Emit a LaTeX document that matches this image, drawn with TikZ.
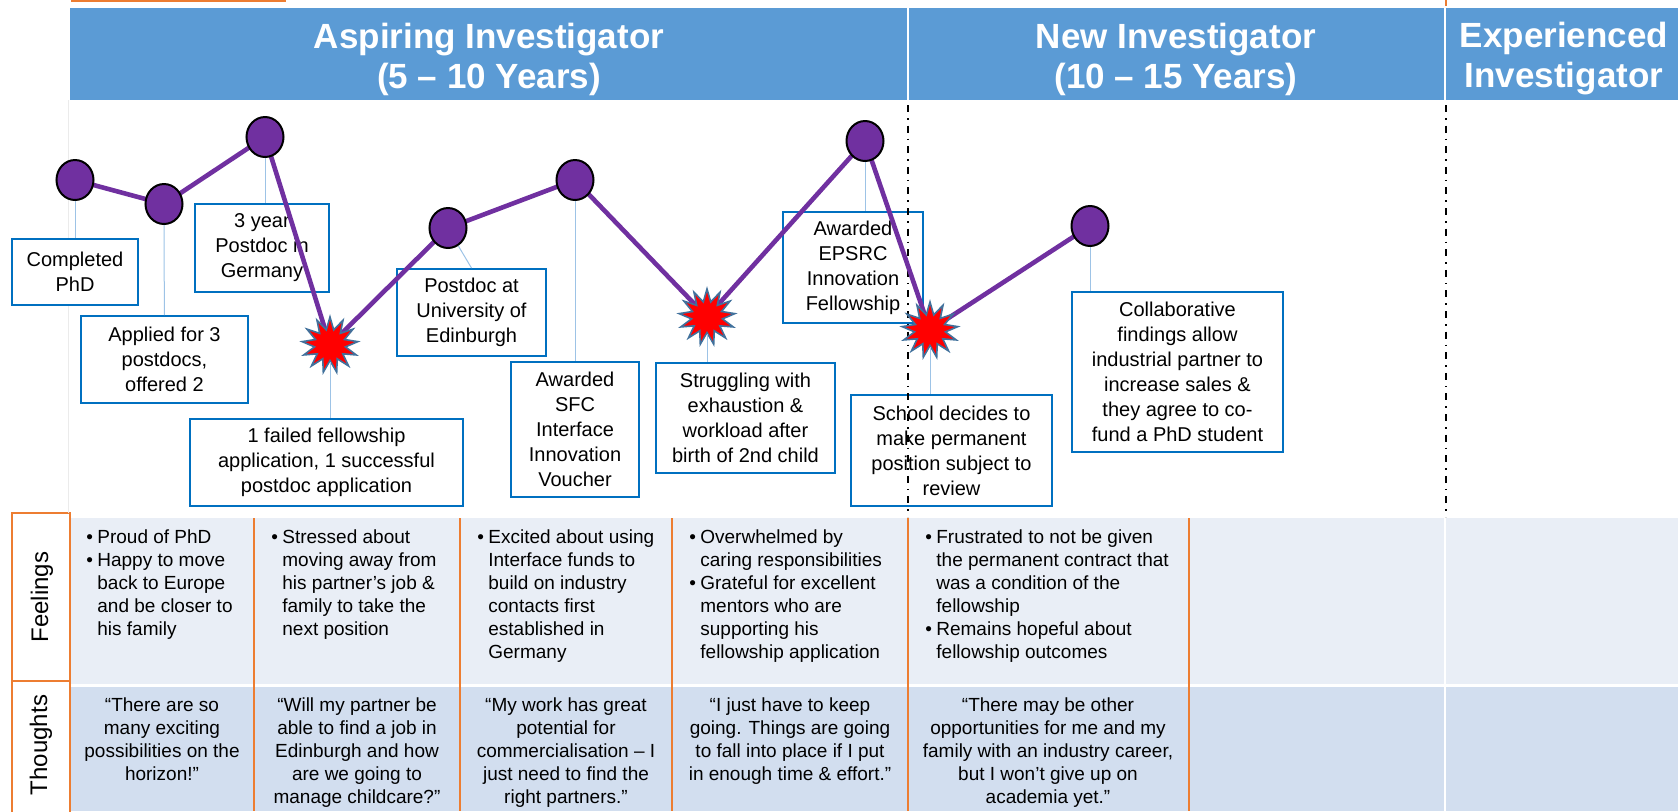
\documentclass[tikz,border=0pt]{standalone}
\usepackage{fontspec}
\setmainfont{Liberation Sans}
\usetikzlibrary{shapes.geometric}

\definecolor{bandblue}{HTML}{5B9BD5}
\definecolor{plum}{HTML}{7030A0}
\definecolor{boxblue}{HTML}{0070C0}
\definecolor{tieblue}{HTML}{9DC3E6}
\definecolor{rimblue}{HTML}{41719C}
\definecolor{rowlight}{HTML}{E9EEF6}
\definecolor{rowdark}{HTML}{D2DEEF}
\definecolor{accent}{HTML}{ED7D31}

% bullet and hanging indent for the feelings cells
\newcommand{\bl}{\makebox[5.5pt][l]{\textbullet}}
\newcommand{\ind}{\hspace*{5.5pt}}

\begin{document}
\begin{tikzpicture}[x=0.5pt,y=-0.5pt,
  band/.style={font=\bfseries\fontsize{17.5}{20}\selectfont, text=white, align=center},
  eventbox/.style={draw=boxblue, line width=1pt, fill=white, align=center, inner sep=0pt, font=\fontsize{10}{12.5}\selectfont},
  milestone/.style={ellipse, draw=black, line width=1pt, fill=plum, minimum width=18.5pt, minimum height=20pt, inner sep=0pt},
  setback/.style={star, star points=13, star point ratio=1.8, draw=rimblue, line width=0.8pt, fill=red, minimum size=28pt, inner sep=0pt},
  journey/.style={plum, line width=2.3pt, line join=round},
  tie/.style={tieblue, line width=0.5pt},
  phase/.style={black, line width=1pt, dash pattern=on 3.5pt off 3pt on 0.8pt off 3pt},
  rowlabel/.style={rotate=90, font=\fontsize{12}{14}\selectfont},
  feel/.style={anchor=north west, align=left, inner sep=0pt, font=\fontsize{9.5}{11.5}\selectfont},
  thought/.style={anchor=north, align=center, inner sep=0pt, font=\fontsize{9.5}{11.5}\selectfont}]
\useasboundingbox (0,0) rectangle (1678,811);

% header band with the three career stages
\fill[accent] (71,0) rectangle (286,2);
\draw[accent, line width=1pt] (1446,0) -- (1446,6);
\fill[bandblue] (70,8) rectangle (1678,100);
\draw[white, line width=1pt] (908,8) -- (908,100) (1445,8) -- (1445,100);
\node[band] (aspiring) at (489,59) {Aspiring Investigator\\(5 -- 10 Years)};
\node[band] (new) at (1176,59) {New Investigator\\(10 -- 15 Years)};
\node[band] (experienced) at (1564,59) {Experienced\\Investigator};

% table rows
\fill[rowlight] (70,518) rectangle (1678,684);
\fill[rowdark] (70,687) rectangle (1678,811);
\draw[white, line width=1pt] (1445,518) -- (1445,811);
\foreach \x in {254,460,672,908,1189}
  \draw[accent, line width=1pt] (\x,518) -- (\x,811);
\draw[accent, line width=1pt] (12,513) rectangle (70,681) (12,681) rectangle (70,813);
\draw[black!8, line width=0.5pt] (68,100) -- (68,513);
\node[rowlabel] (feelings) at (42,597) {Feelings};
\node[rowlabel] (thoughts) at (41,745) {Thoughts};

\node[feel] (f1) at (86,529) {\bl Proud of PhD\\\bl Happy to move\\\ind back to Europe\\\ind and be closer to\\\ind his family};
\node[feel] (f2) at (271,529) {\bl Stressed about\\\ind moving away from\\\ind his partner’s job \&\\\ind family to take the\\\ind next position};
\node[feel] (f3) at (477,529) {\bl Excited about using\\\ind Interface funds to\\\ind build on industry\\\ind contacts first\\\ind established in\\\ind Germany};
\node[feel] (f4) at (689,529) {\bl Overwhelmed by\\\ind caring responsibilities\\\bl Grateful for excellent\\\ind mentors who are\\\ind supporting his\\\ind fellowship application};
\node[feel] (f5) at (925,529) {\bl Frustrated to not be given\\\ind the permanent contract that\\\ind was a condition of the\\\ind fellowship\\\bl Remains hopeful about\\\ind fellowship outcomes};

\node[thought] (t1) at (162,697) {“There are so\\many exciting\\possibilities on the\\horizon!”};
\node[thought] (t2) at (357,697) {“Will my partner be\\able to find a job in\\Edinburgh and how\\are we going to\\manage childcare?”};
\node[thought] (t3) at (566,697) {“My work has great\\potential for\\commercialisation -- I\\just need to find the\\right partners.”};
\node[thought] (t4) at (790,697) {“I just have to keep\\going. Things are going\\to fall into place if I put\\in enough time \& effort.”};
\node[thought] (t5) at (1048,697) {“There may be other\\opportunities for me and my\\family with an industry career,\\but I won’t give up on\\academia yet.”};

% highs and lows of the journey
\coordinate (p1) at (75,180);
\coordinate (p2) at (164,204);
\coordinate (p3) at (265,137);
\coordinate (q1) at (330,345);
\coordinate (p4) at (448,228);
\coordinate (p5) at (575,180);
\coordinate (q2) at (707,317);
\coordinate (p6) at (865,141);
\coordinate (q3) at (930,330);
\coordinate (p7) at (1090,226);

\node[eventbox, minimum width=63pt, minimum height=33pt] (done) at (75,272) {Completed\\PhD};
\node[eventbox, minimum width=83.5pt, minimum height=43.5pt] (applied) at (164.5,359.5) {Applied for 3\\postdocs,\\offered 2};
\node[eventbox, minimum width=67pt, minimum height=44pt] (germany) at (262,248) {3 year\\Postdoc in\\Germany};
\node[eventbox, minimum width=136.5pt, minimum height=43.5pt] (failed) at (326.5,462.5) {1 failed fellowship\\application, 1 successful\\postdoc application};
\node[eventbox, minimum width=74.5pt, minimum height=43.5pt] (edinburgh) at (471.5,312.5) {Postdoc at\\University of\\Edinburgh};
\node[eventbox, minimum width=64pt, minimum height=67.5pt] (voucher) at (575,429.5) {Awarded\\SFC\\Interface\\Innovation\\Voucher};
\node[eventbox, minimum width=89.5pt, minimum height=55pt] (struggle) at (745.5,418) {Struggling with\\exhaustion \&\\workload after\\birth of 2nd child};
\node[eventbox, minimum width=70pt, minimum height=55.5pt] (epsrc) at (853,267.5) {Awarded\\EPSRC\\Innovation\\Fellowship};
\node[eventbox, minimum width=100.5pt, minimum height=55.5pt] (school) at (951.5,450.5) {School decides to\\make permanent\\position subject to\\review};
\node[eventbox, minimum width=105.5pt, minimum height=80pt] (collab) at (1177.5,372) {Collaborative\\findings allow\\industrial partner to\\increase sales \&\\they agree to co-\\fund a PhD student};

% stage boundaries
\draw[phase] (908,105) -- (908,517);
\draw[phase] (1446,105) -- (1446,517);

\draw[journey] (p1) -- (p2) -- (p3) -- (q1) -- (p4) -- (p5) -- (q2) -- (p6) -- (q3) -- (p7);
\foreach \i in {1,...,7}
  \node[milestone] (c\i) at (p\i) {};
\foreach \i in {1,2,3}
  \node[setback] (s\i) at (q\i) {};

\draw[tie] (c1) -- (done);
\draw[tie] (c2) -- (applied);
\draw[tie] (c3) -- (c3 |- germany.north);
\draw[tie] (s1) -- (s1 |- failed.north);
\draw[tie] (c4.-60) -- (edinburgh.north);
\draw[tie] (c5) -- (voucher);
\draw[tie] (s2) -- (s2 |- struggle.north);
\draw[tie] (c6) -- (c6 |- epsrc.north);
\draw[tie] (s3) -- (s3 |- school.north);
\draw[tie] (c7) -- (c7 |- collab.north);
\end{tikzpicture}
\end{document}
